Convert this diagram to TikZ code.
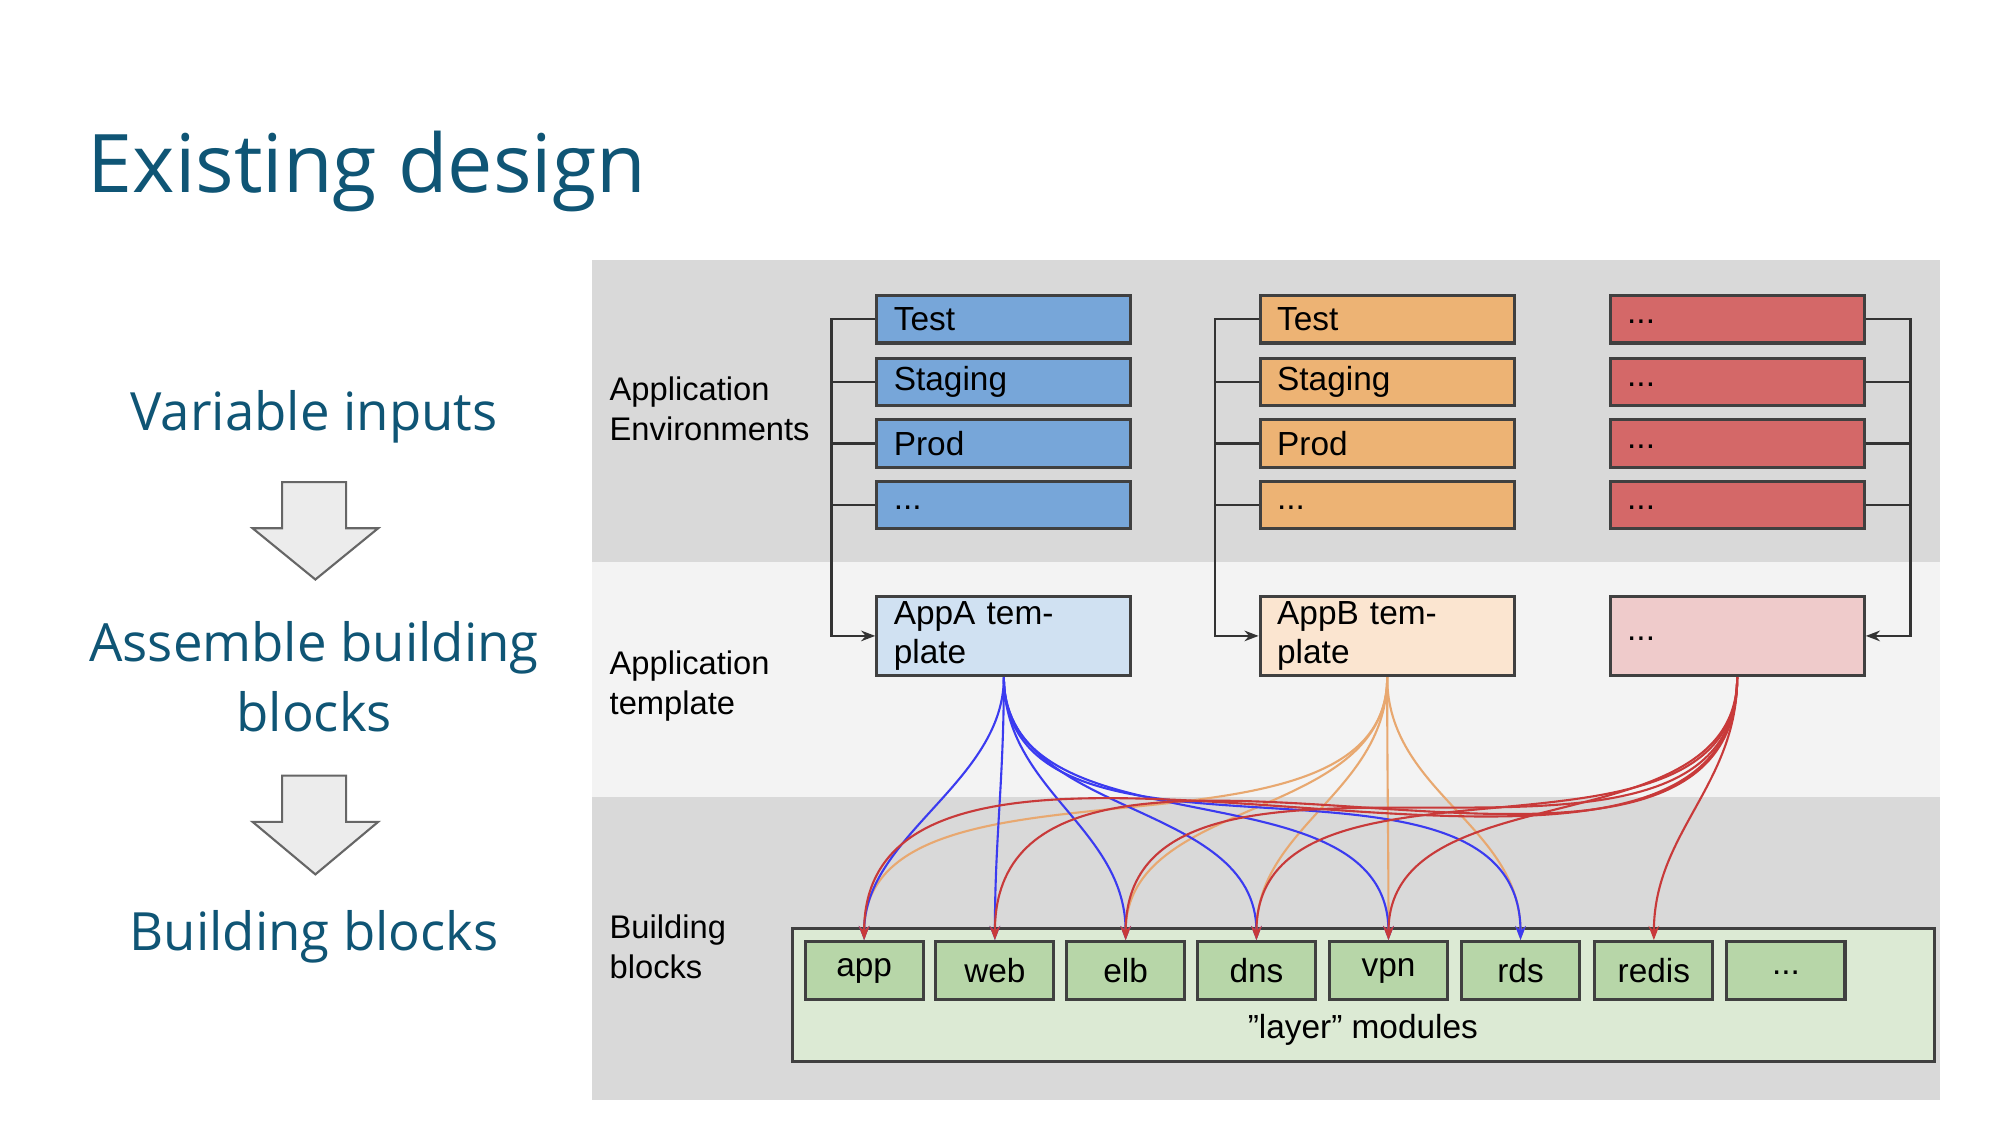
\documentclass[tikz,border=0pt]{standalone}
\usepackage{fontspec}
\setmainfont{Liberation Sans}
\newfontfamily\osans{Open Sans}
\usetikzlibrary{arrows.meta}
\definecolor{ttl}{HTML}{0F5575}
\definecolor{bandD}{HTML}{D9D9D9}
\definecolor{bandL}{HTML}{F3F3F3}
\definecolor{bfill}{HTML}{77A6D9}
\definecolor{ofill}{HTML}{EDB374}
\definecolor{rfill}{HTML}{D46868}
\definecolor{blt}{HTML}{D0E1F2}
\definecolor{olt}{HTML}{FBE5D0}
\definecolor{rlt}{HTML}{EFCBCB}
\definecolor{gfill}{HTML}{B7D6A8}
\definecolor{glt}{HTML}{DCEAD4}
\definecolor{bord}{HTML}{404040}
\definecolor{bline}{HTML}{3B3BF0}
\definecolor{oline}{HTML}{E8A870}
\definecolor{rline}{HTML}{C83A3A}
\tikzset{
  env/.style={draw=bord,line width=0.9pt,minimum height=0.474cm,inner ysep=0pt,inner xsep=0.17cm,text width=2.2cm,align=left,font=\fontsize{9.5}{11}\selectfont},
  tmpl/.style={env,minimum height=0.795cm},
  blk/.style={draw=bord,line width=0.9pt,fill=gfill,minimum width=1.18cm,minimum height=0.577cm,inner sep=0pt,font=\fontsize{9.5}{11}\selectfont},
  lbl/.style={anchor=north west,align=left,inner sep=0pt,font=\fontsize{9.3}{11.5}\selectfont},
  brk/.style={draw=black!80,line width=0.7pt},
  lnk/.style={line width=0.6pt,-{Stealth[length=4pt,width=3pt]}},
  side/.style={font=\osans\fontsize{15}{20}\selectfont,text=ttl,align=center},
  bigarrow/.style={draw=gray!80!black,fill=gray!15,line width=0.6pt}
}
\begin{document}
\begin{tikzpicture}[x=0.01282cm,y=-0.01282cm]
\useasboundingbox (0,0) rectangle (1560,877.5);
\fill[white] (0,0) rectangle (1560,877.5);
% title
\node[anchor=base west,inner sep=0pt,font=\osans\fontsize{23}{28}\selectfont,text=ttl] (title) at (68,150) {Existing design};
% left side
\node[side] (vi) at (245,325) {Variable inputs};
\node[side] (ab) at (245,528) {Assemble building\\blocks};
\node[side] (bb) at (245,731) {Building blocks};
\draw[bigarrow] (220,376)--(270,376)--(270,412)--(295,412)--(246,452)--(197,412)--(220,412)--cycle;
\draw[bigarrow] (220,605)--(270,605)--(270,641)--(295,641)--(246,682)--(197,641)--(220,641)--cycle;
% bands
\fill[bandD] (462,203) rectangle (1513,438);
\fill[bandL] (462,438) rectangle (1513,622);
\fill[bandD] (462,622) rectangle (1513,858);
\node[lbl] (l1) at (475,293) {Application\\Environments};
\node[lbl] (l2) at (475,507) {Application\\template};
\node[lbl] (l3) at (475,713) {Building\\blocks};
% env boxes
\foreach \c/\x/\f in {a/783/bfill,b/1082/ofill}{
  \node[env,fill=\f] (\c1) at (\x,249) {Test};
  \node[env,fill=\f] (\c2) at (\x,298) {Staging};
  \node[env,fill=\f] (\c3) at (\x,346) {Prod};
  \node[env,fill=\f] (\c4) at (\x,394) {\raisebox{-0.5ex}{...}};
}
\foreach \i/\y in {1/249,2/298,3/346,4/394}{
  \node[env,fill=rfill] (c\i) at (1355,\y) {\raisebox{-0.5ex}{...}};
}
\node[tmpl,fill=blt] (at) at (783,496) {AppA template};
\node[tmpl,fill=olt] (bt) at (1082,496) {AppB template};
\node[tmpl,fill=rlt] (ct) at (1355,496) {\raisebox{-0.5ex}{...}};
% brackets
\foreach \c in {a,b}{
  \draw[brk,-{Stealth[length=4pt,width=3pt]}] (\c1.west) -- ++(-34,0) |- (\c t.west);
  \foreach \i in {2,3,4}{\draw[brk] (\c\i.west) -- ++(-34,0);}
}
\draw[brk,-{Stealth[length=4pt,width=3pt]}] (c1.east) -- ++(35,0) |- (ct.east);
\foreach \i in {2,3,4}{\draw[brk] (c\i.east) -- ++(35,0);}
% building blocks
\draw[draw=bord,line width=0.9pt,fill=glt] (618,724) rectangle (1509,828);
\node[font=\fontsize{9.5}{11}\selectfont] (lm) at (1063,803) {"layer" modules};
\foreach \n/\x in {app/674,web/776,elb/878,dns/980,vpn/1083,rds/1186,redis/1290}{
  \node[blk] (\n) at (\x,757) {\n};
}
\node[blk] (more) at (1393,757) {\raisebox{-0.4ex}{...}};
% links
\foreach \t/\l in {app/0.9,elb/1,dns/1,vpn/1,rds/1}{
  \draw[lnk,oline] (bt.south) to[out=-90,in=90,looseness=\l] (\t.north);
}
\foreach \t/\l in {app/0.9,web/1,elb/1,dns/1,vpn/1,rds/1}{
  \draw[lnk,bline] (at.south) to[out=-90,in=90,looseness=\l] (\t.north);
}
\foreach \t/\l in {app/0.9,web/1,elb/1,dns/1,vpn/1,redis/1}{
  \draw[lnk,rline] (ct.south) to[out=-90,in=90,looseness=\l] (\t.north);
}
\end{tikzpicture}
\end{document}
